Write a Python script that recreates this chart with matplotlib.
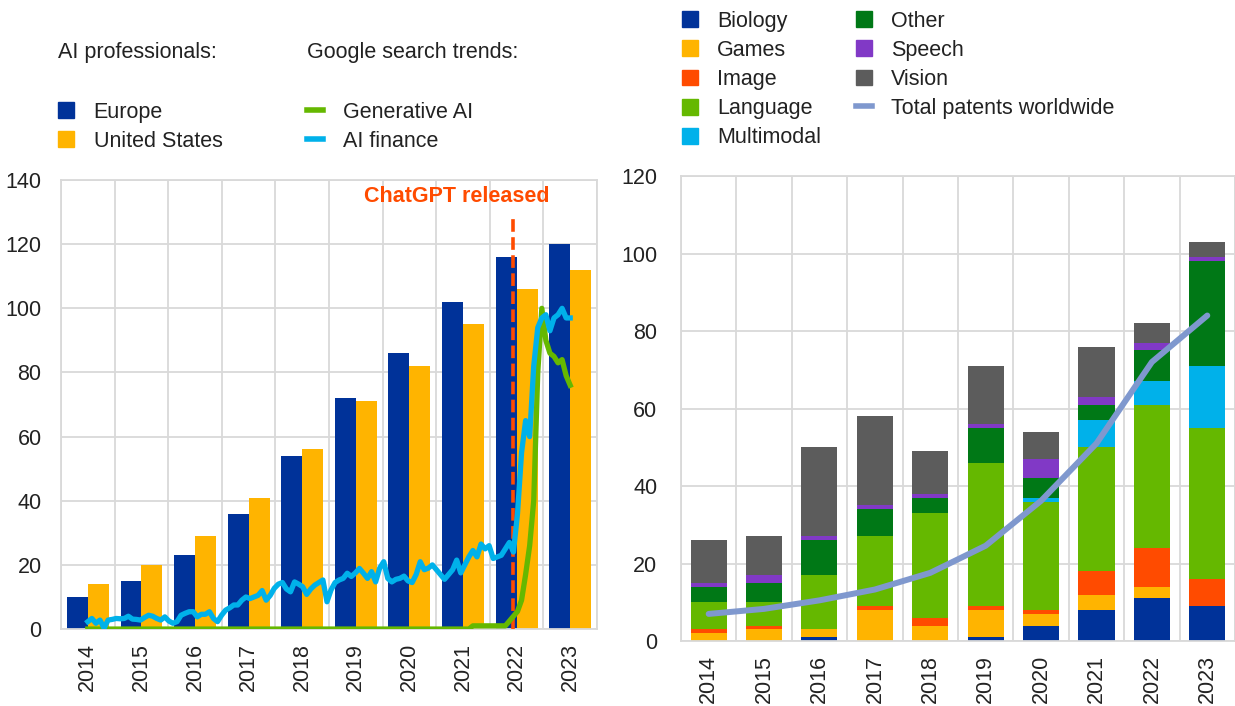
import matplotlib
matplotlib.use("Agg")
import matplotlib.pyplot as plt
from matplotlib.patches import Patch
from matplotlib.lines import Line2D
import numpy as np

plt.rcParams["font.family"] = ["Liberation Sans", "DejaVu Sans"]

# ---- data: left panel (AI professionals, Google search trends) ----
YEARS = ["2014", "2015", "2016", "2017", "2018", "2019", "2020", "2021", "2022", "2023"]
EUROPE = [10, 15, 23, 36, 54, 72, 86, 102, 116, 120]
UNITED_STATES = [14, 20, 29, 41, 56, 71, 82, 95, 106, 112]

# monthly index values, Jan 2014 .. Dec 2023
AI_FINANCE = [
    2.3, 3.3, 1.8, 2.8, 0.3, 2.8, 3.0, 3.3, 3.2, 3.3, 4.0, 3.1,
    3.0, 2.8, 3.6, 4.3, 4.0, 3.3, 2.8, 3.8, 2.5, 1.8, 2.3, 4.3,
    4.9, 5.4, 5.4, 3.8, 4.6, 4.6, 5.4, 3.3, 2.3, 4.3, 5.9, 6.6,
    7.5, 7.5, 9.0, 10.0, 9.5, 10.0, 10.5, 12.0, 9.0, 10.5, 12.7, 14.0,
    14.5, 12.5, 11.6, 14.7, 14.0, 13.2, 10.8, 12.5, 13.7, 14.5, 15.3, 8.5,
    12.2, 14.5, 15.3, 15.8, 17.4, 16.4, 17.5, 18.9, 17.4, 15.8, 17.9, 14.7,
    19.0, 21.0, 15.8, 14.7, 15.5, 15.8, 16.5, 15.0, 14.5, 17.0, 21.0, 18.5,
    19.0, 20.0, 18.5, 17.0, 15.5, 17.0, 18.5, 21.5, 17.5, 20.0, 22.5, 24.5,
    22.5, 26.5, 25.0, 26.0, 22.0, 22.5, 23.0, 25.0, 27.0, 24.0, 36.0, 55.0,
    65.0, 60.0, 82.0, 94.0, 97.0, 98.0, 93.0, 97.0, 98.0, 100.0, 97.0, 97.0,
]
GENERATIVE_AI = [0] * 95 + [
    1, 1, 1, 1, 1, 1, 1, 1, 1, 2.5, 4, 5.5, 9,
    17, 26, 40, 80, 100, 90, 86, 85, 83, 84, 79, 76,
]
CHATGPT_MONTH = 105

# ---- data: right panel (AI patents by field) ----
BIOLOGY = [0, 0, 1, 0, 0, 1, 4, 8, 11, 9]
GAMES = [2, 3, 2, 8, 4, 7, 3, 4, 3, 0]
IMAGE = [1, 1, 0, 1, 2, 1, 1, 6, 10, 7]
LANGUAGE = [7, 6, 14, 18, 27, 37, 28, 32, 37, 39]
MULTIMODAL = [0, 0, 0, 0, 0, 0, 1, 7, 6, 16]
OTHER = [4, 5, 9, 7, 4, 9, 5, 4, 8, 27]
SPEECH = [1, 2, 1, 1, 1, 1, 5, 2, 2, 1]
VISION = [11, 10, 23, 23, 11, 15, 7, 13, 5, 4]
TOTAL_PATENTS = [7, 8.3, 10.5, 13.3, 17.6, 24.6, 36.2, 51, 72, 84]

BLUE = "#003299"
YELLOW = "#FFB400"
RED = "#FF4B00"
LGREEN = "#65B800"
CYAN = "#00B1EA"
DGREEN = "#007816"
PURPLE = "#8139C6"
GREY = "#5C5C5C"
TOTAL_C = "#7F98CE"
GRID = "#D9D9D9"
TXT = "#222222"
FS = 15.5


def style_axes(ax, ymax):
    n = len(YEARS)
    ax.set_xlim(-0.5, n - 0.5)
    ax.set_ylim(0, ymax)
    ax.set_yticks(range(0, ymax + 1, 20))
    ax.set_xticks(range(n))
    ax.set_xticklabels(YEARS, rotation=90)
    ax.set_xticks(np.arange(-0.5, n, 1.0), minor=True)
    ax.grid(True, which="minor", axis="x", color=GRID, lw=1.3)
    ax.grid(True, which="major", axis="y", color=GRID, lw=1.3)
    ax.set_axisbelow(True)
    for s in ax.spines.values():
        s.set_color(GRID)
        s.set_linewidth(1.3)
    ax.tick_params(which="both", length=0, labelsize=FS, colors=TXT)
    ax.tick_params(axis="y", pad=14)
    ax.tick_params(axis="x", pad=10)


fig = plt.figure(figsize=(12.35, 7.06), dpi=100)

# ---------------- left panel ----------------
ax = fig.add_axes([0.0494, 0.109, 0.434, 0.636])
x = np.arange(len(YEARS))
w = 0.39
ax.bar(x - w, EUROPE, width=w, align="edge", color=BLUE)
ax.bar(x, UNITED_STATES, width=w, align="edge", color=YELLOW)
style_axes(ax, 140)

n_months = len(AI_FINANCE)
span = (n_months - 1) / (len(YEARS) - 1)
ax2 = ax.twiny()
ax2.set_xlim(-0.5 * span, n_months - 1 + 0.5 * span)
ax2.set_ylim(0, 140)
ax2.axis("off")
months = np.arange(n_months)
ax2.plot([CHATGPT_MONTH, CHATGPT_MONTH], [0, 128.5], color=RED, lw=2.6,
         dashes=(3.5, 1.5), zorder=2)
ax2.plot(months, GENERATIVE_AI, color=LGREEN, lw=3.8, solid_joinstyle="round", zorder=3)
ax2.plot(months, AI_FINANCE, color=CYAN, lw=3.8, solid_joinstyle="round", zorder=4)
ax2.text(114, 135, "ChatGPT released", color=RED, fontsize=15.5, fontweight="bold",
         ha="right", va="center")

fig.text(0.047, 0.926, "AI professionals:", fontsize=FS, color=TXT, va="center")
fig.text(0.2486, 0.926, "Google search trends:", fontsize=FS, color=TXT, va="center")

leg_kw = dict(loc="upper left", frameon=False, fontsize=FS, labelcolor=TXT,
              handletextpad=0.9, labelspacing=0.38, borderpad=0, borderaxespad=0)
fig.legend(handles=[Patch(color=BLUE), Patch(color=YELLOW)],
           labels=["Europe", "United States"], bbox_to_anchor=(0.047, 0.856),
           handlelength=0.75, handleheight=0.75, **leg_kw)
fig.legend(handles=[Line2D([], [], color=LGREEN, lw=4), Line2D([], [], color=CYAN, lw=4)],
           labels=["Generative AI", "AI finance"], bbox_to_anchor=(0.2486, 0.856),
           handlelength=0.75, **leg_kw)

# ---------------- right panel ----------------
bx = fig.add_axes([0.5514, 0.092, 0.4486, 0.6587])
series = [
    ("Biology", BIOLOGY, BLUE),
    ("Games", GAMES, YELLOW),
    ("Image", IMAGE, RED),
    ("Language", LANGUAGE, LGREEN),
    ("Multimodal", MULTIMODAL, CYAN),
    ("Other", OTHER, DGREEN),
    ("Speech", SPEECH, PURPLE),
    ("Vision", VISION, GREY),
]
bottom = np.zeros(len(YEARS))
handles = []
labels = []
for name, vals, col in series:
    bx.bar(x, vals, bottom=bottom, width=0.65, color=col)
    bottom += np.array(vals)
    handles.append(Patch(color=col))
    labels.append(name)
bx.plot(x, TOTAL_PATENTS, color=TOTAL_C, lw=4.3, solid_capstyle="round", zorder=3)
handles.append(Line2D([], [], color=TOTAL_C, lw=4))
labels.append("Total patents worldwide")
style_axes(bx, 120)
bx.tick_params(axis="y", pad=17)

fig.legend(handles=handles, labels=labels, ncol=2, bbox_to_anchor=(0.552, 0.985),
           handlelength=0.75, handleheight=0.75, columnspacing=1.6, **leg_kw)

fig.savefig("out.png", dpi=100)
